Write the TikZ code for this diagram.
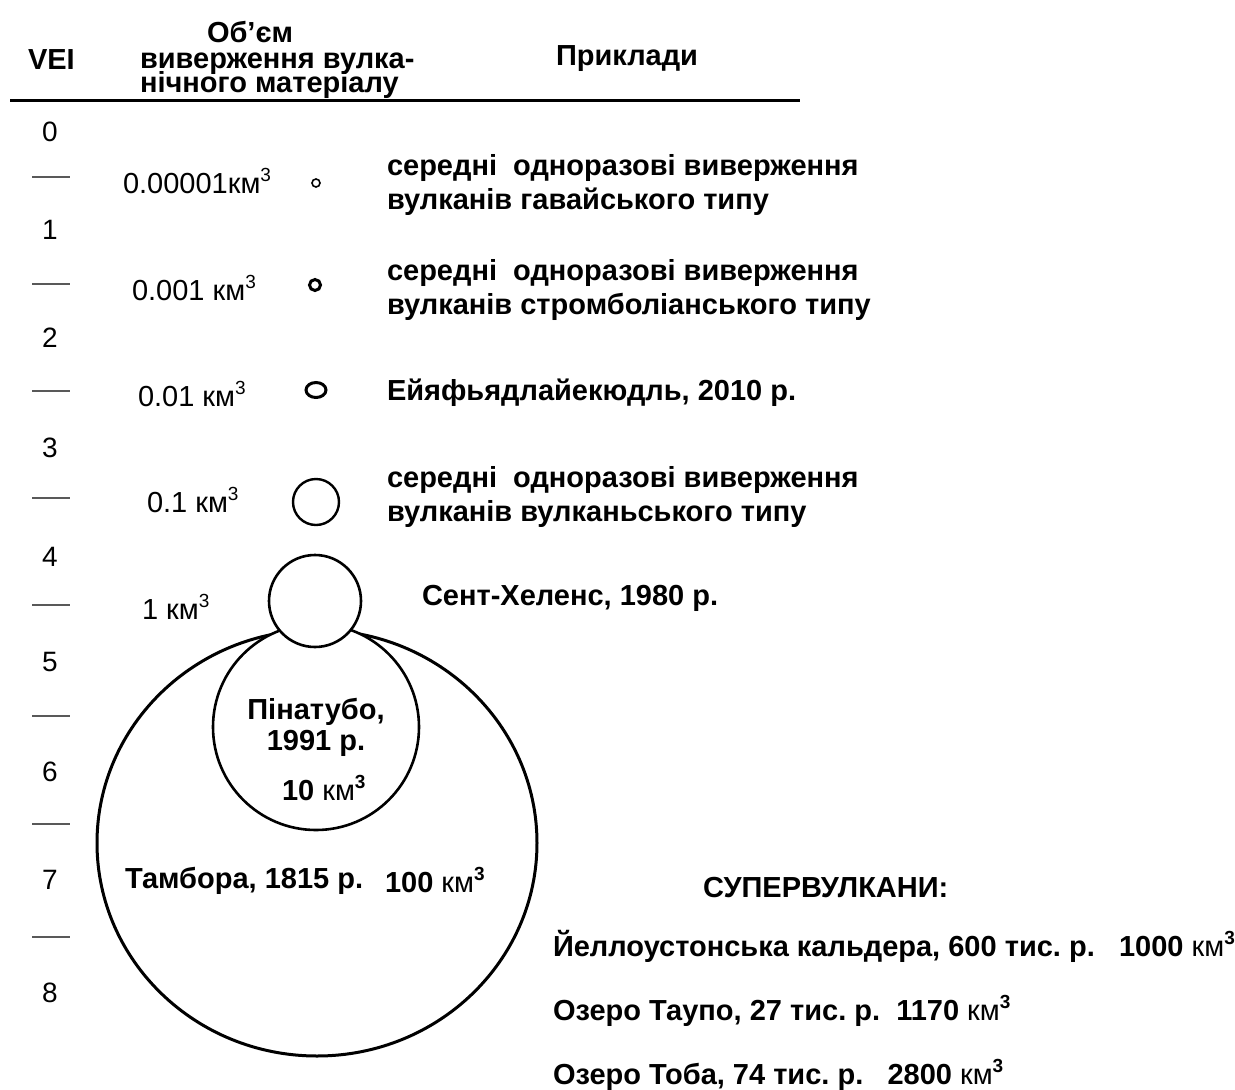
\documentclass[tikz,border=0pt]{standalone}
\usepackage{fontspec}
\setmainfont{Liberation Sans}
\frenchspacing
\newcommand\cubeexp{\raisebox{0.40em}{\fontsize{19}{19}\selectfont 3}}
\newcommand\kmcube{{\mdseries км}\cubeexp}
\begin{document}
\begin{tikzpicture}[x=1pt,y=-1pt,
  every node/.style={inner sep=0pt, outer sep=0pt},
  hdr/.style={font=\bfseries\fontsize{29}{29}\selectfont, anchor=west},
  hdrl/.style={font=\bfseries\fontsize{29}{29}\selectfont, anchor=base west, text height=20pt, text depth=0pt},
  ex/.style={font=\bfseries\fontsize{29}{34}\selectfont, anchor=west, align=left},
  exc/.style={font=\bfseries\fontsize{29}{31}\selectfont, align=center},
  vol/.style={font=\fontsize{29}{30}\selectfont},
  num/.style={font=\fontsize{28}{30}\selectfont},
  tickline/.style={line width=2pt, draw=black!65},
  ring/.style={draw=black, line width=2.6pt, fill=white},
]
\useasboundingbox[fill=white] (0,0) rectangle (1235,1090);

% header
\node[hdr] (hVEI) at (28,60) {VEI};
\node[hdrl] (hObj) at (207,42) {Об’єм};
\node[hdrl] (hVol1) at (140,68) {виверження вулка-};
\node[hdrl] (hVol2) at (140,92) {нічного матеріалу};
\node[hdr] (hEx) at (556,59) {Приклади};
\coordinate (hl1) at (10,100);
\coordinate (hl2) at (800,100);
\draw[line width=3pt] (hl1) -- (hl2);

% VEI numbers
\node[num] (n0) at (50,132) {0};
\node[num] (n1) at (50,230) {1};
\node[num] (n2) at (50,338) {2};
\node[num] (n3) at (50,448) {3};
\node[num] (n4) at (50,557) {4};
\node[num] (n5) at (50,662) {5};
\node[num] (n6) at (50,772) {6};
\node[num] (n7) at (50,880) {7};
\node[num] (n8) at (50,993) {8};

% ticks
\foreach \i/\yy in {1/177,2/284,3/391,4/498,5/605,6/716,7/824,8/937}{
  \coordinate (ta\i) at (32,\yy);
  \coordinate (tb\i) at (70,\yy);
  \draw[tickline] (ta\i) -- (tb\i);
}

% volumes
\node[vol, anchor=west] (v1) at (123,181) {0.00001км\cubeexp};
\node[vol, anchor=west] (v2) at (132,288) {0.001 км\cubeexp};
\node[vol, anchor=west] (v3) at (138,394) {0.01 км\cubeexp};
\node[vol, anchor=west] (v4) at (147,500) {0.1 км\cubeexp};
\node[vol, anchor=west] (v5) at (142,607) {1 км\cubeexp};

% circles
\draw[draw=black, line width=1.6pt] (316,183) circle (4);
\draw[draw=black, line width=3pt] (315,285) circle (5.5);
\draw[draw=black, line width=3pt] (316,390) ellipse (10 and 7.5);
\draw[ring, line width=2.4pt] (316,502) circle (23);

\draw[ring, line width=3pt] (317,843) ellipse (220 and 213);
\draw[ring] (316,727) circle (103);
\draw[ring] (315,601) circle (46);

% examples
\node[ex] (e1) at (387,185) {середні\ \ одноразові виверження\\вулканів гавайського типу};
\node[ex] (e2) at (387,290) {середні\ \ одноразові виверження\\вулканів стромболіанського типу};
\node[ex] (e3) at (387,393) {Ейяфьядлайекюдль, 2010 р.};
\node[ex] (e4) at (387,497) {середні\ \ одноразові виверження\\вулканів вулканьського типу};
\node[ex] (e5) at (422,598) {Сент-Хеленс, 1980 р.};

\node[exc] (pin) at (316,727) {Пінатубо,\\1991 р.};
\node[ex] (pinv) at (282,788) {10 \kmcube};
\node[ex] (tam) at (125,881) {Тамбора, 1815 р.};
\node[ex] (tamv) at (385,880) {100 \kmcube};

% supervolcanoes
\node[ex] (sv) at (703,888) {СУПЕРВУЛКАНИ:};
\node[ex] (s1) at (553,946) {Йеллоустонська кальдера, 600 тис. р.\ \ \ 1000 \kmcube};
\node[ex] (s2) at (553,1011) {Озеро Таупо, 27 тис. р.\ \ 1170 \kmcube};
\node[ex] (s3) at (553,1075) {Озеро Тоба, 74 тис. р.\ \ \ 2800 \kmcube};
\end{tikzpicture}
\end{document}
